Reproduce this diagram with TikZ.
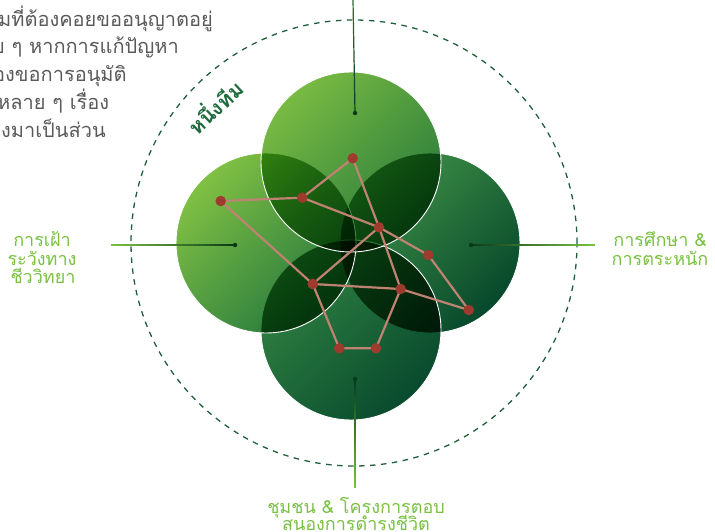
\documentclass[tikz,border=0pt]{standalone}
\usepackage{fontspec}
\newfontfamily\thai[Script=Thai]{Loma}
\usetikzlibrary{calc}
\definecolor{dashgreen}{HTML}{1E5E3A}
\definecolor{labgreen}{HTML}{7AC143}
\definecolor{teamgreen}{HTML}{1F6B3D}
\definecolor{paragray}{HTML}{5A5A5A}
\definecolor{edgecol}{HTML}{C08272}
\definecolor{dotred}{HTML}{9E3B2E}
\definecolor{enddot}{HTML}{0A3A1A}
\definecolor{topline}{HTML}{2E6E38}
\definecolor{rA}{HTML}{429448}
\definecolor{rB}{HTML}{06482C}
\definecolor{bA}{HTML}{328442}
\definecolor{bB}{HTML}{084A2E}
\definecolor{lA}{HTML}{80C043}
\definecolor{lB}{HTML}{22763E}
\definecolor{tA}{HTML}{78BA42}
\definecolor{tB}{HTML}{287A3C}
\pgfdeclarelayer{front}
\pgfsetlayers{main,front}
\tikzset{
  netdot/.style={circle, fill=dotred, inner sep=0pt, minimum size=10.5pt},
  netedge/.style={draw=edgecol, line width=2.2pt},
  endpt/.style={circle, fill=enddot, inner sep=0pt, minimum size=4.5pt},
  para/.style={font=\thai\fontsize{20}{24}\selectfont, text=paragray, inner sep=0pt, anchor=base west},
  lab/.style={font=\thai\fontsize{18}{18}\selectfont, text=labgreen, inner sep=0pt, anchor=base},
  ring/.style={draw=white, line width=0.9pt},
}
% gradient connector: from #1 (colour #3) to #2 (colour #4)
\newcommand\gradline[4]{%
  \foreach \i in {0,...,23}{%
    \pgfmathsetmacro\ga{\i/24}%
    \pgfmathsetmacro\gb{(\i+1.05)/24}%
    \pgfmathsetmacro\gm{100*(1-(\i+0.5)/24)}%
    \draw[line width=1.2pt, color=#3!\gm!#4] ($(#1)!\ga!(#2)$) -- ($(#1)!\gb!(#2)$);
  }}
\begin{document}
\begin{tikzpicture}[x=1pt,y=-1pt]
\useasboundingbox (0,0) rectangle (715,532);
\clip (0,0) rectangle (715,532);

% dashed ring
\draw[dashgreen, line width=1.3pt, dash pattern=on 5.5pt off 5.5pt] (354,243) circle[radius=223pt];

% circle centres
\coordinate (cR) at (430,243);
\coordinate (cB) at (351,330);
\coordinate (cL) at (266,243);
\coordinate (cT) at (351,162);

% right
\begin{scope}[blend mode=multiply]
\shade[top color=rA, bottom color=rB, shading angle=45] (cR) circle[radius=90pt];
\end{scope}
\draw[ring] (cR) circle[radius=90pt];
% bottom
\begin{scope}[blend mode=multiply]
\shade[top color=bA, bottom color=bB, shading angle=45] (cB) circle[radius=90pt];
\end{scope}
\draw[ring] (cB) circle[radius=90pt];
% left
\begin{scope}[blend mode=multiply]
\shade[top color=lA, bottom color=lB, shading angle=45] (cL) circle[radius=90pt];
\end{scope}
\draw[ring] (cL) circle[radius=90pt];
% top
\begin{scope}[blend mode=multiply]
\shade[top color=tA, bottom color=tB, shading angle=45] (cT) circle[radius=90pt];
\end{scope}
\draw[ring] (cT) circle[radius=90pt];

% connector lines
\coordinate (eT) at (353,0);
\coordinate (eL) at (111,245);
\coordinate (eR) at (595,245);
\coordinate (eB) at (355,488);
\coordinate (dTc) at (355,113);
\coordinate (dLc) at (235,245);
\coordinate (dRc) at (471,245);
\coordinate (dBc) at (355,379);
\gradline{eT}{dTc}{topline}{enddot}
\gradline{eL}{dLc}{labgreen}{enddot}
\gradline{eR}{dRc}{labgreen}{enddot}
\gradline{eB}{dBc}{labgreen}{enddot}
\node[endpt] (dT) at (dTc) {};
\node[endpt] (dL) at (dLc) {};
\node[endpt] (dR) at (dRc) {};
\node[endpt] (dB) at (dBc) {};

% network
\begin{pgfonlayer}{front}
\node[netdot] (n1) at (352.7,158.3) {};
\node[netdot] (n2) at (302.3,197.7) {};
\node[netdot] (n3) at (220.7,201) {};
\node[netdot] (n4) at (379,227.3) {};
\node[netdot] (n5) at (428.3,255) {};
\node[netdot] (n6) at (312.7,284) {};
\node[netdot] (n7) at (400.7,289) {};
\node[netdot] (n8) at (468.7,310) {};
\node[netdot] (n9) at (339.3,348.3) {};
\node[netdot] (n10) at (376,348.3) {};
\end{pgfonlayer}
\draw[netedge] (n3.center) -- (n2.center) -- (n1.center) -- (n4.center) -- (n5.center) -- (n8.center) -- (n7.center) -- (n10.center) -- (n9.center) -- (n6.center) -- (n3.center);
\draw[netedge] (n2.center) -- (n4.center) -- (n7.center);
\draw[netedge] (n4.center) -- (n6.center) -- (n7.center);

% paragraph (cut at left edge)
\node[para] (p1) at (-2,26.5) {มที่ต้องคอยขออนุญาตอยู่};
\node[para] (p2) at (-7,54) {ย ๆ หากการแก้ปัญหา};
\node[para] (p3) at (-7,82) {องขอการอนุมัติ};
\node[para] (p4) at (-3,110) {หลาย ๆ เรื่อง};
\node[para] (p5) at (1,137.5) {งมาเป็นส่วน};

% team label
\node[font=\thai\bfseries\fontsize{21}{22}\selectfont, text=teamgreen, rotate=43, inner sep=0pt] (team) at (214,106) {หนึ่งทีม};

% labels
\node[lab] (l1) at (42,246.7) {การเฝ้า};
\node[lab] (l2) at (42,265) {ระวังทาง};
\node[lab] (l3) at (43,283) {ชีววิทยา};
\node[lab] (r1) at (660,246.7) {การศึกษา \&};
\node[lab] (r2) at (660,265) {การตระหนัก};
\node[lab] (b1) at (356,513) {ชุมชน \& โครงการตอบ};
\node[lab] (b2) at (356,530) {สนองการดำรงชีวิต};
\end{tikzpicture}
\end{document}
